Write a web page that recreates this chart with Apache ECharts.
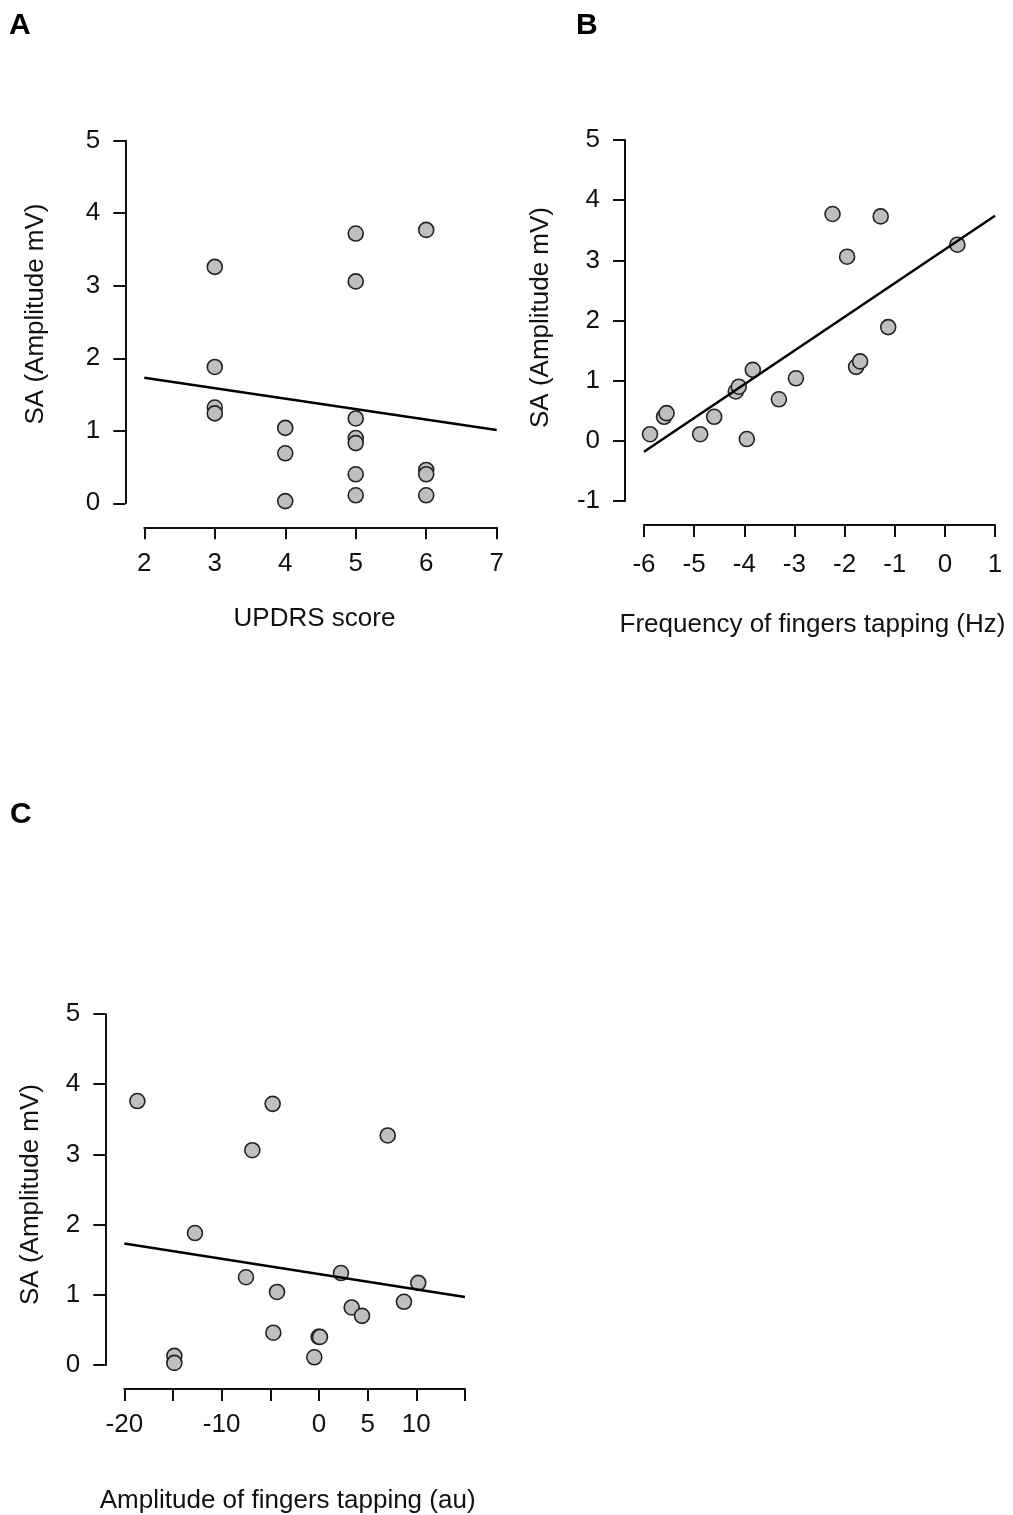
<!DOCTYPE html>
<html>
<head>
<meta charset="utf-8">
<script src="https://cdn.jsdelivr.net/npm/echarts@6/dist/echarts.min.js"></script>
<style>
  html, body { margin: 0; padding: 0; background: #ffffff; }
  #chart { width: 1013px; height: 1515px; }
</style>
</head>
<body>
<div id="chart"></div>
<script>
// Panel A: UPDRS score vs SA amplitude
const updrsScore = [3, 3, 3, 3, 4, 4, 4, 5, 5, 5, 5, 5, 5, 5, 6, 6, 6, 6];
const updrsSA = [3.26, 1.88, 1.32, 1.24, 1.04, 0.69, 0.03, 3.72, 3.06, 1.17, 0.90, 0.83, 0.40, 0.11, 3.77, 0.46, 0.40, 0.11];
const updrsFit = [[2, 1.73], [7, 1.01]];

// Panel B: finger tapping frequency vs SA amplitude
const tapFreq = [-5.88, -5.60, -5.55, -4.88, -4.60, -4.17, -4.11, -3.83, -3.95, -3.31, -2.97, -2.24, -1.95, -1.28, -1.77, -1.69, -1.13, 0.25];
const tapFreqSA = [0.11, 0.40, 0.46, 0.11, 0.40, 0.82, 0.90, 1.18, 0.03, 0.69, 1.04, 3.77, 3.06, 3.73, 1.23, 1.32, 1.89, 3.26];
const tapFreqFit = [[-6, -0.18], [1, 3.74]];

// Panel C: finger tapping amplitude vs SA amplitude
const tapAmpl = [-18.66, -14.86, -14.86, -12.74, -7.50, -6.85, -4.76, -4.31, -4.69, -0.48, -0.03, 0.10, 2.26, 3.36, 4.42, 7.06, 8.73, 10.20];
const tapAmplSA = [3.76, 0.13, 0.03, 1.88, 1.25, 3.06, 3.72, 1.04, 0.46, 0.11, 0.40, 0.40, 1.31, 0.82, 0.70, 3.27, 0.90, 1.17];
const tapAmplFit = [[-20, 1.73], [15, 0.97]];
const tapAmplTickLabels = [-20, -10, 0, 5, 10];

const FONT = 'Liberation Sans, Arial, sans-serif';
const INK = '#111111';
const TEXT_SIZE = 26;

function zip(xs, ys) { return xs.map((x, i) => [x, ys[i]]); }

function xAxisFor(grid, min, max, interval, name, nameGap, shiftLeft, labelMargin, labelFilter) {
  return {
    type: 'value', gridIndex: grid, min: min, max: max, interval: interval,
    position: 'bottom', offset: 24,
    name: name, nameLocation: 'middle', nameGap: nameGap,
    nameTextStyle: { fontFamily: FONT, fontSize: TEXT_SIZE, color: INK, padding: [0, shiftLeft * 2, 0, 0] },
    axisLine: { show: true, onZero: false, lineStyle: { color: INK, width: 2 } },
    axisTick: { show: true, length: 12, lineStyle: { color: INK, width: 2 } },
    splitLine: { show: false },
    axisLabel: {
      margin: labelMargin, fontFamily: FONT, fontSize: TEXT_SIZE, color: INK,
      showMinLabel: true, showMaxLabel: true, hideOverlap: false,
      formatter: labelFilter ? (v => (labelFilter.indexOf(v) >= 0 ? String(v) : '')) : (v => String(v))
    }
  };
}

function yAxisFor(grid, min, max, nameGap, shiftUp) {
  const pad = shiftUp >= 0 ? [0, 0, 0, shiftUp * 2] : [0, -shiftUp * 2, 0, 0];
  return {
    type: 'value', gridIndex: grid, min: min, max: max, interval: 1,
    position: 'left', offset: 19,
    name: 'SA (Amplitude mV)', nameLocation: 'middle', nameGap: nameGap,
    nameTextStyle: { fontFamily: FONT, fontSize: TEXT_SIZE, color: INK, padding: pad },
    axisLine: { show: true, onZero: false, lineStyle: { color: INK, width: 2 } },
    axisTick: { show: true, length: 12, lineStyle: { color: INK, width: 2 } },
    splitLine: { show: false },
    axisLabel: { margin: 25, fontFamily: FONT, fontSize: TEXT_SIZE, color: INK, showMinLabel: true, showMaxLabel: true }
  };
}

function points(grid, data) {
  return {
    type: 'scatter', xAxisIndex: grid, yAxisIndex: grid, data: data,
    symbol: 'circle', symbolSize: 15, z: 2,
    itemStyle: { color: '#bfbfbf', borderColor: '#222222', borderWidth: 1.6, opacity: 1 },
    emphasis: { disabled: true }
  };
}

function fitLine(grid, data) {
  return {
    type: 'line', xAxisIndex: grid, yAxisIndex: grid, data: data,
    symbol: 'none', z: 3,
    lineStyle: { color: '#000000', width: 2.5 },
    emphasis: { disabled: true }
  };
}

function panelLetter(text, left, top) {
  return {
    type: 'text', left: left, top: top,
    style: { text: text, fontFamily: FONT, fontSize: 30, fontWeight: 'bold', fill: '#000000' }
  };
}

const chart = echarts.init(document.getElementById('chart'), null, { renderer: 'canvas' });

chart.setOption({
  animation: false,
  backgroundColor: '#ffffff',
  graphic: [
    panelLetter('A', 9, 11),
    panelLetter('B', 576, 11),
    panelLetter('C', 10, 800)
  ],
  grid: [
    { left: 144.3, top: 140.7, width: 352.4, height: 362.6 },
    { left: 644, top: 140, width: 351, height: 361 },
    { left: 124.3, top: 1014, width: 340.7, height: 351.7 }
  ],
  xAxis: [
    xAxisFor(0, 2, 7, 1, 'UPDRS score', 79, 6, 24),
    xAxisFor(1, -6, 1, 1, 'Frequency of fingers tapping (Hz)', 87, 7, 27),
    xAxisFor(2, -20, 15, 5, 'Amplitude of fingers tapping (au)', 99, 7, 23, tapAmplTickLabels)
  ],
  yAxis: [
    yAxisFor(0, 0, 5, 76, 8),
    yAxisFor(1, -1, 5, 71, 3),
    yAxisFor(2, 0, 5, 61, -5)
  ],
  series: [
    points(0, zip(updrsScore, updrsSA)),
    fitLine(0, updrsFit),
    points(1, zip(tapFreq, tapFreqSA)),
    fitLine(1, tapFreqFit),
    points(2, zip(tapAmpl, tapAmplSA)),
    fitLine(2, tapAmplFit)
  ]
});
</script>
</body>
</html>
